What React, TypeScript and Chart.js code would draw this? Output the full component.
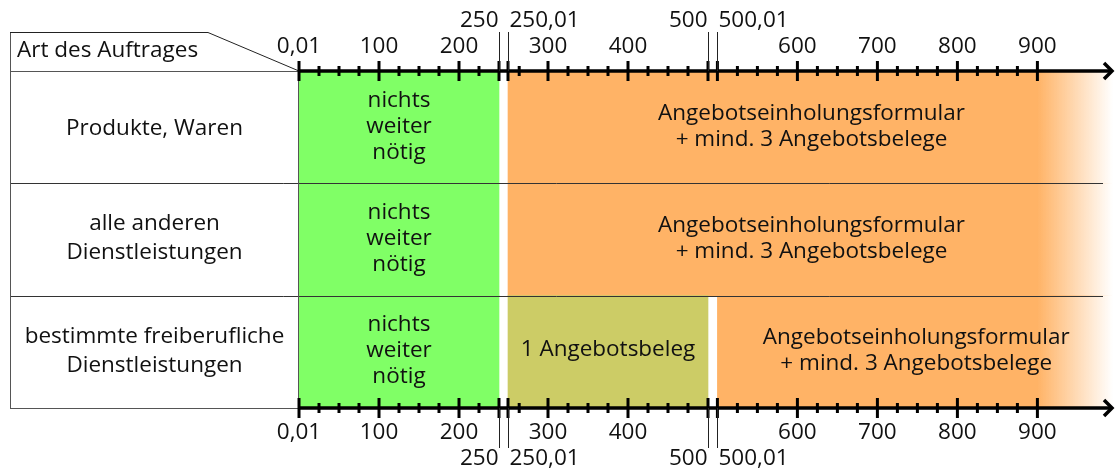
import React, { useEffect, useRef } from "react";
import { Chart, registerables } from "chart.js";

Chart.register(...registerables);

// ---- data ----
const ROW_LABELS: string[][] = [
  ["Produkte, Waren"],
  ["alle anderen", "Dienstleistungen"],
  ["bestimmte freiberufliche", "Dienstleistungen"],
];
const HEADER_LABEL = "Art des Auftrages";

const GREEN_RANGES: ([number, number] | null)[] = [[0, 250], [0, 250], [0, 250]];
const OLIVE_RANGES: ([number, number] | null)[] = [null, null, [250.01, 500]];
const ORANGE_RANGES: ([number, number] | null)[] = [[250.01, 1000], [250.01, 1000], [500.01, 1000]];

const GREEN_TEXT = ["nichts", "weiter", "nötig"];
const OLIVE_TEXT = ["1 Angebotsbeleg"];
const ORANGE_TEXT = ["Angebotseinholungsformular", "+ mind. 3 Angebotsbelege"];

const MAJOR_TICKS = [0.01, 100, 200, 250, 250.01, 300, 400, 500, 500.01, 600, 700, 800, 900];
const MINOR_TICKS = [25, 50, 75, 125, 150, 175, 225, 264, 325, 350, 375, 425, 450, 475, 525, 550, 575, 625, 650, 675, 725, 750, 775, 825, 850, 875];
const INNER_LABEL_VALUES = [0.01, 100, 200, 300, 400, 600, 700, 800, 900];
const INNER_LABELS = ["0,01", "100", "200", "300", "400", "600", "700", "800", "900"];
const BREAK_VALUES = [250, 250.01, 500, 500.01];
const BREAK_LABELS = ["250", "250,01", "500", "500,01"];
const BREAK_ALIGN: CanvasTextAlign[] = ["right", "left", "right", "left"];
const FADE_START = 900;

// broken axis: gaps after 250 and after 500
function toAxis(v: number): number {
  if (v <= 250) return v;
  if (v <= 500) return v + 11.25;
  return v + 23;
}

const GREEN = "#80ff66";
const OLIVE = "#cccc66";
const ORANGE = "#ffb366";
const TEXT = "#111111";
const FONT = '"Open Sans", "DejaVu Sans", sans-serif';

const decorPlugin = {
  id: "decor",
  afterDatasetsDraw(chart: any) {
    const ctx: CanvasRenderingContext2D = chart.ctx;
    const area = chart.chartArea;
    const xs = chart.scales.x;
    const ys = chart.scales.y;
    const px = (v: number) => xs.getPixelForValue(toAxis(v));
    const rowH = (area.bottom - area.top) / ROW_LABELS.length;
    const left = 10;
    ctx.save();

    // row separators
    ctx.strokeStyle = "#333";
    ctx.lineWidth = 1;
    for (let i = 1; i < ROW_LABELS.length; i++) {
      const y = Math.round(area.top + i * rowH) + 0.5;
      ctx.beginPath();
      ctx.moveTo(left, y);
      ctx.lineTo(1103, y);
      ctx.stroke();
    }
    // table frame
    ctx.strokeStyle = "#555";
    ctx.beginPath();
    ctx.moveTo(left + 0.5, 32);
    ctx.lineTo(left + 0.5, area.bottom);
    ctx.moveTo(area.left - 0.5, area.top);
    ctx.lineTo(area.left - 0.5, area.bottom);
    ctx.moveTo(left, area.bottom + 0.5);
    ctx.lineTo(area.left, area.bottom + 0.5);
    ctx.moveTo(left, area.top + 0.5);
    ctx.lineTo(area.left, area.top + 0.5);
    ctx.stroke();
    ctx.strokeStyle = "#222";
    ctx.beginPath();
    ctx.moveTo(left, 32.5);
    ctx.lineTo(208, 32.5);
    ctx.lineTo(area.left, area.top);
    ctx.stroke();

    // texts
    ctx.fillStyle = TEXT;
    ctx.font = `22.5px ${FONT}`;
    ctx.textBaseline = "middle";
    ctx.textAlign = "left";
    ctx.fillText(HEADER_LABEL, 17, 51);

    ctx.textAlign = "center";
    const drawLines = (lines: string[], cx: number, cy: number, lh: number) => {
      const n = lines.length;
      lines.forEach((t, i) => ctx.fillText(t, cx, cy + (i - (n - 1) / 2) * lh));
    };
    ROW_LABELS.forEach((lines, i) => {
      const cy = ys.getPixelForValue(i);
      drawLines(lines, (left + area.left) / 2, lines.length === 1 ? cy + 1 : cy - 1, 29);
      const g = GREEN_RANGES[i];
      if (g) drawLines(GREEN_TEXT, (px(g[0]) + px(g[1])) / 2, cy - 1, 26);
      const o = OLIVE_RANGES[i];
      if (o) drawLines(OLIVE_TEXT, (px(o[0]) + px(o[1])) / 2, cy - 2, 26);
      const r = ORANGE_RANGES[i];
      if (r) drawLines(ORANGE_TEXT, (px(r[0]) + area.right) / 2, cy - 1, 26);
    });

    // axes (top & bottom)
    const axisYs = [area.top, area.bottom];
    axisYs.forEach((ay, k) => {
      ctx.strokeStyle = "#000";
      ctx.lineWidth = 3.5;
      ctx.beginPath();
      ctx.moveTo(area.left, ay);
      ctx.lineTo(1112, ay);
      ctx.stroke();
      // arrow head
      ctx.beginPath();
      ctx.moveTo(1104, ay - 8);
      ctx.lineTo(1112, ay);
      ctx.lineTo(1104, ay + 8);
      ctx.stroke();
      // major ticks
      ctx.lineWidth = 3;
      MAJOR_TICKS.forEach((v) => {
        const x = px(v);
        ctx.beginPath();
        ctx.moveTo(x, ay - 10);
        ctx.lineTo(x, ay + 10);
        ctx.stroke();
      });
      MINOR_TICKS.forEach((v) => {
        const x = px(v);
        ctx.beginPath();
        ctx.moveTo(x, ay - 5);
        ctx.lineTo(x, ay + 5);
        ctx.stroke();
      });
      // labels
      ctx.fillStyle = TEXT;
      ctx.textAlign = "center";
      const innerY = k === 0 ? ay - 24 : ay + 25;
      INNER_LABEL_VALUES.forEach((v, i) => ctx.fillText(INNER_LABELS[i], px(v), innerY));
      const breakY = k === 0 ? ay - 50 : ay + 51;
      ctx.lineWidth = 1;
      ctx.strokeStyle = "#222";
      BREAK_VALUES.forEach((v, i) => {
        const x = Math.round(px(v)) + 0.5;
        ctx.beginPath();
        if (k === 0) {
          ctx.moveTo(x, 32);
          ctx.lineTo(x, ay);
        } else {
          ctx.moveTo(x, ay);
          ctx.lineTo(x, 448);
        }
        ctx.stroke();
        ctx.textAlign = BREAK_ALIGN[i];
        ctx.fillText(BREAK_LABELS[i], BREAK_ALIGN[i] === "right" ? x - 1 : x + 1, breakY);
      });
    });
    ctx.restore();
  },
};

export default function App() {
  const ref = useRef<HTMLCanvasElement>(null);
  useEffect(() => {
    if (!ref.current) return;
    const mapRange = (r: [number, number] | null) => (r ? [toAxis(r[0]), toAxis(r[1])] : null);
    const orangeColor = (c: any) => {
      const chart = c.chart;
      const area = chart.chartArea;
      if (!area) return ORANGE;
      const x0 = chart.scales.x.getPixelForValue(toAxis(FADE_START));
      const g = chart.ctx.createLinearGradient(x0, 0, area.right - 2, 0);
      g.addColorStop(0, ORANGE);
      g.addColorStop(1, "rgba(255,179,102,0)");
      return g;
    };
    const common = {
      grouped: false,
      barPercentage: 1,
      categoryPercentage: 1,
      borderWidth: 0,
      borderSkipped: false,
    };
    const chart = new Chart(ref.current, {
      type: "bar",
      data: {
        labels: ROW_LABELS.map((l) => l.join(" ")),
        datasets: [
          { label: "green", data: GREEN_RANGES.map(mapRange) as any, backgroundColor: GREEN, ...common },
          { label: "olive", data: OLIVE_RANGES.map(mapRange) as any, backgroundColor: OLIVE, ...common },
          { label: "orange", data: ORANGE_RANGES.map(mapRange) as any, backgroundColor: orangeColor, ...common },
        ],
      } as any,
      options: {
        indexAxis: "y",
        responsive: false,
        animation: false,
        layout: { padding: { left: 299, right: 0, top: 71, bottom: 62 } },
        plugins: { legend: { display: false }, tooltip: { enabled: false } },
        scales: {
          x: { type: "linear", min: 0, max: 1020, display: false },
          y: { type: "category", display: false },
        },
      } as any,
      plugins: [decorPlugin],
    });
    return () => chart.destroy();
  }, []);
  return (
    <div style={{ position: "absolute", left: 0, top: 0, width: 1115, height: 470, background: "#fff" }}>
      <canvas ref={ref} width={1115} height={470} style={{ width: 1115, height: 470 }} />
    </div>
  );
}
